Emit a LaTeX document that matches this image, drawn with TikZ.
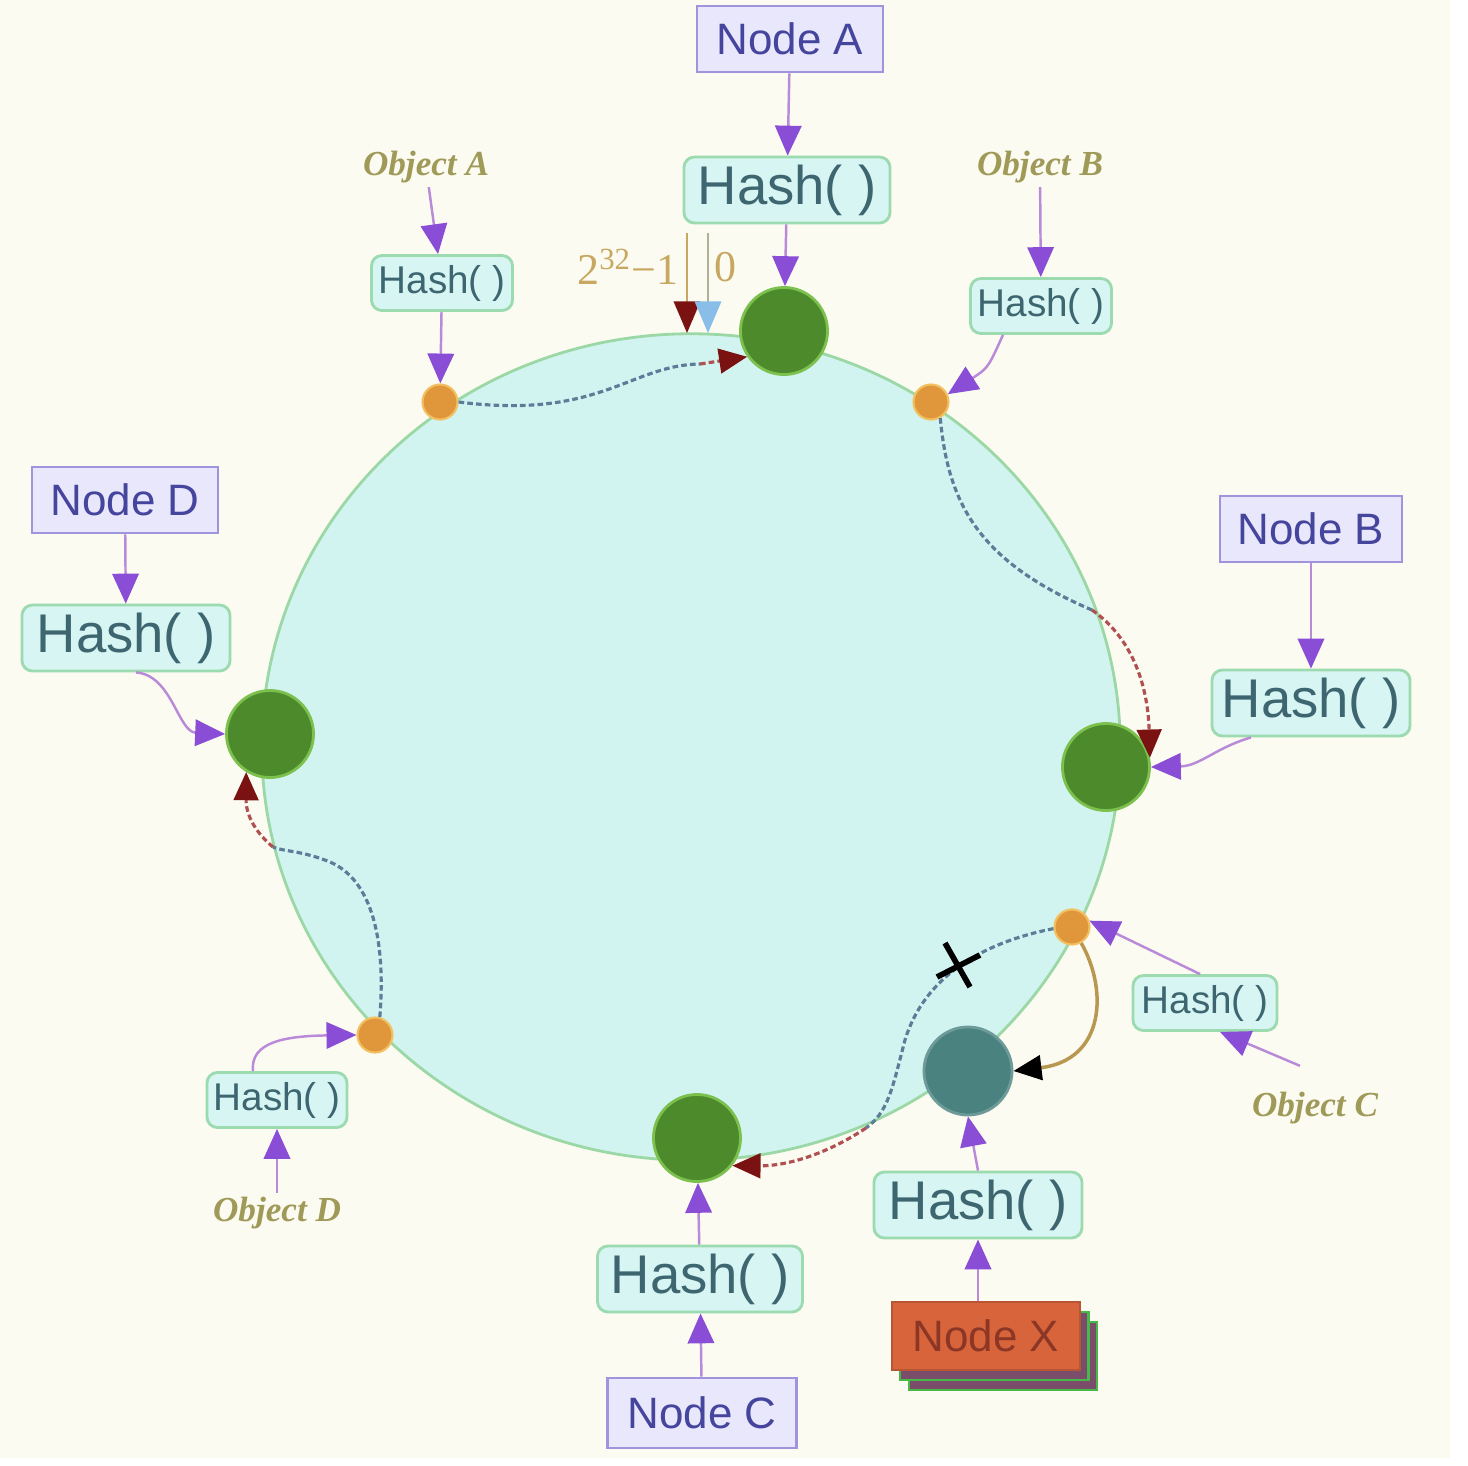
\documentclass[tikz,border=0pt]{standalone}
\usepackage{fontspec}
\setmainfont{Liberation Serif}
\setsansfont{Liberation Sans}
\usetikzlibrary{arrows.meta,shadows}
\definecolor{bgc}{HTML}{FCFBF2}
\definecolor{ringfill}{HTML}{D2F4F1}
\definecolor{ringline}{HTML}{9BD8A6}
\definecolor{purp}{HTML}{8A4ED6}
\definecolor{purpline}{HTML}{B98AD8}
\definecolor{greenfill}{HTML}{4C8A2C}
\definecolor{greenline}{HTML}{7CC04E}
\definecolor{orangefill}{HTML}{E0963A}
\definecolor{orangeline}{HTML}{F2C060}
\definecolor{hashfill}{HTML}{D7F5F2}
\definecolor{hashline}{HTML}{9CDAB0}
\definecolor{hashtext}{HTML}{3D6670}
\definecolor{nodefill}{HTML}{E9E7FB}
\definecolor{nodeline}{HTML}{A095DD}
\definecolor{nodetext}{HTML}{45459E}
\definecolor{objtext}{HTML}{A09A58}
\definecolor{dotc}{HTML}{5C7C98}
\definecolor{darkred}{HTML}{7A1212}
\definecolor{redline}{HTML}{B05050}
\definecolor{tealfill}{HTML}{4A8280}
\definecolor{xfill}{HTML}{D8643C}
\definecolor{xtext}{HTML}{8C3626}
\definecolor{tanc}{HTML}{C8A860}
\definecolor{lblue}{HTML}{88BEE8}
\definecolor{curvec}{HTML}{B89850}
\definecolor{shadowc}{HTML}{7A4E6A}
\tikzset{
  namebox/.style={draw=nodeline, fill=nodefill, line width=0.8pt, text=nodetext,
    font=\sffamily\fontsize{12.5}{14}\selectfont, minimum width=1.86cm, minimum height=0.66cm, inner sep=0pt},
  bighash/.style={draw=hashline, fill=hashfill, rounded corners=3pt, line width=0.8pt, text=hashtext,
    font=\sffamily\fontsize{15.5}{18}\selectfont, minimum width=2.06cm, minimum height=0.66cm, inner sep=0pt},
  smallhash/.style={draw=hashline, fill=hashfill, rounded corners=3pt, line width=0.8pt, text=hashtext,
    font=\sffamily\fontsize{11}{13}\selectfont, minimum width=1.41cm, minimum height=0.55cm, inner sep=0pt},
  bigdot/.style={circle, fill=greenfill, draw=greenline, line width=0.8pt, minimum size=0.87cm, inner sep=0pt},
  smalldot/.style={circle, fill=orangefill, draw=orangeline, line width=0.6pt, minimum size=0.35cm, inner sep=0pt},
  objlabel/.style={text=objtext, font=\bfseries\itshape\fontsize{10}{12}\selectfont, inner sep=1pt},
  marklabel/.style={text=tanc, font=\fontsize{12.5}{14}\selectfont, inner sep=1pt},
  parrow/.style={draw=purpline, line width=0.7pt, -{Triangle[length=8.5pt,width=7.5pt,color=purp]}},
  ringpath/.style={draw=dotc, line width=0.9pt, dash pattern=on 1.6pt off 0.9pt},
  redpath/.style={draw=redline, line width=0.9pt, dash pattern=on 1.6pt off 0.9pt},
  redtip/.style={-{Triangle[length=8pt,width=7pt,color=darkred]}},
}
\begin{document}
\begin{tikzpicture}[x=0.01cm, y=-0.01cm]
\useasboundingbox (0,0) rectangle (1468,1466);
\fill[white] (0,0) rectangle (1468,1466);
\fill[bgc] (0,0) rectangle (1450,1458);
% ring
\draw[ringline, fill=ringfill, line width=0.8pt] (691,747) ellipse [x radius=4.29cm, y radius=4.13cm];

% nodes
\node[namebox] (nA) at (790,39) {Node A};
\node[bighash] (hA) at (787,190) {Hash( )};
\node[bigdot] (gA) at (784,331) {};
\node[objlabel] (oAlab) at (426,167) {Object A};
\node[smallhash] (hOA) at (442,283) {Hash( )};
\node[smalldot] (oA) at (440,402) {};
\node[marklabel] (m1) at (628,267) {2\textsuperscript{32}−1};
\node[marklabel] (m0) at (725,267) {0};
\coordinate (rtop) at (687,233);
\coordinate (rbot) at (687,333);
\coordinate (btop) at (708,233);
\coordinate (bbot) at (708,333);

\node[objlabel] (oBlab) at (1040,167) {Object B};
\node[smallhash] (hOB) at (1041,306) {Hash( )};
\node[smalldot] (oB) at (931,402) {};

\node[namebox, minimum width=1.82cm] (nB) at (1311,529) {Node B};
\node[bighash, minimum width=1.98cm] (hB) at (1311,703) {Hash( )};
\node[bigdot] (gB) at (1106,767) {};

\node[smalldot] (oC) at (1072,927) {};
\node[smallhash, minimum width=1.44cm] (hOC) at (1205,1003) {Hash( )};
\node[objlabel] (oClab) at (1315,1108) {Object C};
\node[circle, fill=tealfill, draw=tealfill!80!white, line width=0.8pt, minimum size=0.88cm, inner sep=0pt] (gX) at (968,1071) {};
\node[bighash, minimum width=2.08cm] (hX) at (978,1205) {Hash( )};
\node[draw=xfill!85!black, fill=xfill, text=xtext, font=\sffamily\fontsize{12.5}{14}\selectfont,
  minimum width=1.88cm, minimum height=0.68cm, inner sep=0pt, line width=0.6pt,
  double copy shadow={shadow xshift=2.4pt, shadow yshift=-2.8pt, fill=shadowc, draw=green!45!gray}] (nX) at (986,1336) {Node X};
\coordinate (xm) at (958,965);

\node[bigdot] (gC) at (697,1138) {};
\node[bighash, minimum width=2.05cm] (hC) at (700,1279) {Hash( )};
\node[namebox, minimum width=1.89cm, minimum height=0.70cm] (nC) at (702,1413) {Node C};

\node[bigdot] (gD) at (270,734) {};
\node[namebox] (nD) at (125,500) {Node D};
\node[bighash, minimum width=2.08cm] (hD) at (126,638) {Hash( )};

\node[smalldot] (oD) at (375,1035) {};
\node[smallhash, minimum width=1.40cm] (hOD) at (277,1100) {Hash( )};
\node[objlabel] (oDlab) at (277,1213) {Object D};

% markers 2^32-1 and 0
\draw[draw=tanc, line width=0.7pt, -{Triangle[length=9pt,width=7.5pt,color=darkred]}] (rtop) -- (rbot);
\draw[draw=tanc!60!lblue, line width=0.7pt, -{Triangle[length=9pt,width=7.5pt,color=lblue]}] (btop) -- (bbot);

% dotted ring paths
\draw[ringpath] (oA.east) .. controls (600,420) and (630,365) .. (700,364);
\draw[redpath, redtip] (700,364) -- (gA.215);

\draw[ringpath] (oB.-60) .. controls (948,500) and (975,560) .. (1092,610);
\draw[redpath, redtip] (1092,610) .. controls (1135,640) and (1148,690) .. (gB.12);

\draw[ringpath] (oC.185) .. controls (985,942) and (925,975) .. (905,1040)
  .. controls (892,1090) and (888,1112) .. (866,1128);
\draw[redpath, redtip] (866,1128) .. controls (830,1152) and (790,1166) .. (gC.-38);

\draw[ringpath] (oD.75) .. controls (386,940) and (372,880) .. (330,862)
  .. controls (300,850) and (285,852) .. (273,847);
\draw[redpath, redtip] (273,847) .. controls (255,832) and (246,815) .. (gD.-122);

% X mark
\draw[black, line width=1.6pt] ([shift={(-13,-22)}]xm) -- ([shift={(12,22)}]xm);
\draw[black, line width=1.6pt] ([shift={(-21,12)}]xm) -- ([shift={(22,-10)}]xm);

% rehash curve to new node X
\draw[draw=curvec, line width=1pt, -{Triangle[length=8pt,width=7pt,color=black]}]
  (oC.-60) .. controls (1108,990) and (1105,1060) .. (gX.east);

% purple hash arrows
\draw[parrow] (nA) -- (hA);
\draw[parrow] (hA) -- (gA);
\draw[parrow] (oAlab) -- (hOA);
\draw[parrow] (hOA) -- (oA);
\draw[parrow] (oBlab) -- (hOB);
\draw[parrow] ([xshift=-0.38cm]hOB.south) .. controls (988,368) .. (oB.25);
\draw[parrow] (nB) -- (hB);
\draw[parrow] ([xshift=-0.6cm]hB.south) .. controls (1215,748) and (1200,766) .. (gB.east);
\draw[parrow] ([shift={(-15,-22)}]oClab.north) -- ([xshift=0.15cm]hOC.south);
\draw[parrow] ([xshift=-0.05cm]hOC.north) -- (oC.20);
\draw[parrow] (nX.north -| hX.south) -- (hX.south);
\draw[parrow] (hX.north) -- (gX.south);
\draw[parrow] (nC) -- (hC);
\draw[parrow] (hC) -- (gC);
\draw[parrow] (nD) -- (hD);
\draw[parrow] ([xshift=0.1cm]hD.south) .. controls (172,675) and (178,732) .. (gD.west);
\draw[parrow] (oDlab) -- (hOD);
\draw[parrow] ([xshift=-0.24cm]hOD.north) .. controls (250,1042) and (285,1036) .. (oD.west);
\end{tikzpicture}
\end{document}
